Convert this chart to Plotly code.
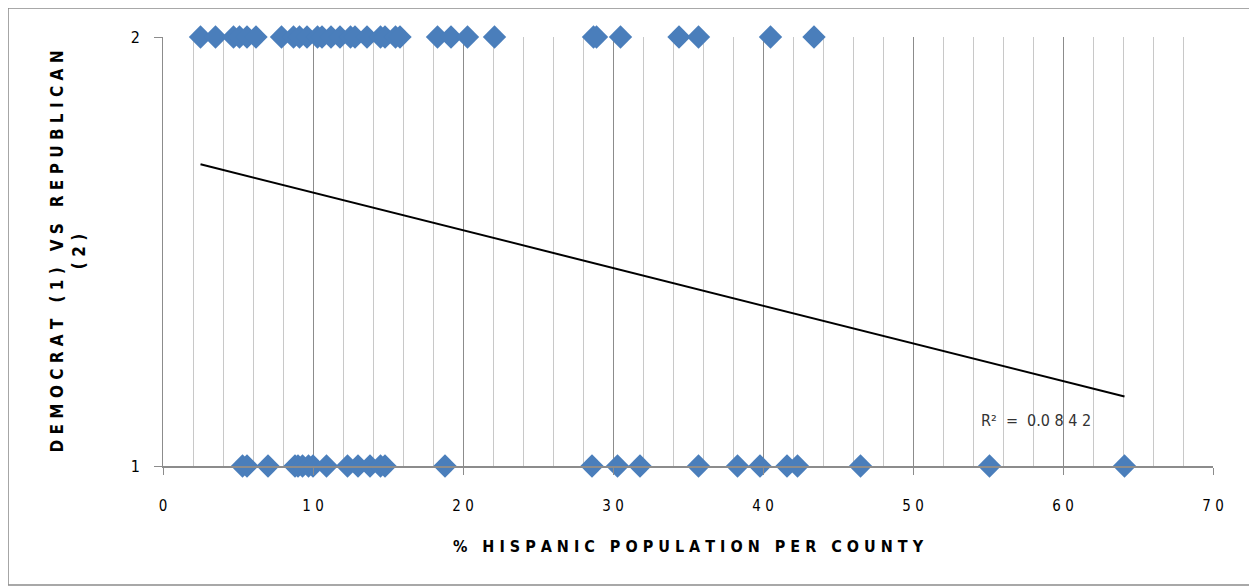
import numpy as np
import plotly.graph_objects as go

# Data
rep_x = [2.5, 3.5, 4.7, 5.1, 5.6, 6.2, 7.9, 8.7, 9.1, 9.6, 10.3, 10.6, 11.2, 11.8, 12.5, 12.8,
         13.6, 14.5, 14.8, 15.5, 15.8, 18.3, 19.2, 20.3, 22.1, 28.7, 28.9, 30.5, 34.4, 35.7, 40.5, 43.4]
rep_y = [2] * len(rep_x)
dem_x = [5.3, 5.6, 7.0, 8.8, 9.0, 9.3, 9.7, 10.0, 10.9, 12.3, 13.0, 13.8, 14.5, 14.8, 18.8,
         28.6, 30.3, 31.8, 35.7, 38.3, 39.8, 41.6, 42.3, 46.5, 55.1, 64.1]
dem_y = [1] * len(dem_x)
r2_label = "R²  =  0.0 8 4 2"
x_ticks = [0, 10, 20, 30, 40, 50, 60, 70]
y_ticks = [1, 2]

xs = np.array(rep_x + dem_x)
ys = np.array(rep_y + dem_y, dtype=float)
slope, intercept = np.polyfit(xs, ys, 1)
tx = np.array([xs.min(), xs.max()])
ty = slope * tx + intercept

FONT = "DejaVu Sans Condensed, Roboto Condensed, Liberation Sans Narrow, Roboto, sans-serif"

def spaced(s, gap=" "):
    return gap.join(s)

fig = go.Figure()
fig.add_trace(go.Scatter(x=list(tx), y=list(ty), mode="lines",
                         line=dict(color="black", width=2), hoverinfo="skip", showlegend=False))
fig.add_trace(go.Scatter(x=rep_x + dem_x, y=rep_y + dem_y, mode="markers",
                         marker=dict(symbol="diamond", size=18, color="#4A7EBB"),
                         showlegend=False, cliponaxis=False))

fig.add_annotation(x=58.2, y=1.107, text=r2_label, showarrow=False,
                   font=dict(family=FONT, size=16, color="#333"))

xtitle = "   ".join(spaced(w) for w in ["%", "HISPANIC", "POPULATION", "PER", "COUNTY"])
ytitle = "   ".join(spaced(w) for w in ["DEMOCRAT", "(1)", "VS", "REPUBLICAN"])

fig.update_xaxes(range=[0, 70], tickvals=x_ticks, ticktext=[spaced(str(v)) for v in x_ticks],
                 showgrid=True, gridcolor="#8c8c8c", gridwidth=1,
                 minor=dict(dtick=2, showgrid=True, gridcolor="#c8c8c8", gridwidth=1,
                            ticks="", tick0=0),
                 showline=True, linecolor="#8c8c8c", linewidth=2,
                 ticks="outside", ticklen=7, tickcolor="#8c8c8c",
                 ticklabelstandoff=18,
                 zeroline=False, automargin=False,
                 tickfont=dict(family=FONT, size=15, color="black"),
                 title=dict(text="<b>" + xtitle + "</b>",
                            font=dict(family=FONT, size=16, color="black"), standoff=27))
fig.update_yaxes(range=[1, 2], tickvals=y_ticks, ticktext=[str(v) for v in y_ticks],
                 showgrid=True, gridcolor="#8c8c8c", gridwidth=2,
                 showline=True, linecolor="#8c8c8c", linewidth=1,
                 ticks="outside", ticklen=8, tickcolor="#8c8c8c",
                 ticklabelstandoff=11,
                 zeroline=False, automargin=False,
                 tickfont=dict(family=FONT, size=16, color="black"),
                 title=dict(text="<b>" + ytitle + "<br>( 2 )</b>",
                            font=dict(family=FONT, size=17, color="black"), standoff=40))

fig.add_shape(type="rect", xref="paper", yref="paper",
              x0=-0.1476, x1=1.0371, y0=-0.2774, y1=1.0676,
              line=dict(color="#8c8c8c", width=1.5), layer="below")

# the page body adds an 8px offset, so margins are shifted to keep the plot area in place
fig.update_layout(width=1257, height=587, margin=dict(l=155, r=52, t=29, b=129),
                  plot_bgcolor="white", paper_bgcolor="white")

fig.write_html("out.html")
